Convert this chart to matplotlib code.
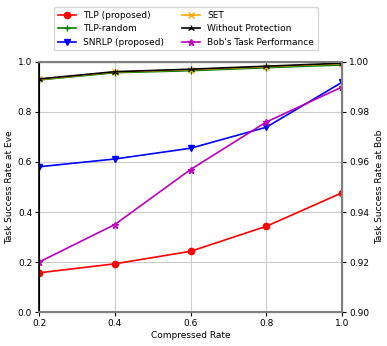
import matplotlib
matplotlib.use("Agg")
import matplotlib.pyplot as plt

x = [0.2, 0.4, 0.6, 0.8, 1.0]
tlp = [0.157, 0.193, 0.243, 0.343, 0.477]
tlp_random = [0.928, 0.957, 0.965, 0.977, 0.988]
snrlp = [0.581, 0.612, 0.655, 0.739, 0.919]
set_ = [0.930, 0.960, 0.969, 0.981, 0.993]
no_prot = [0.932, 0.961, 0.971, 0.983, 0.995]
bob = [0.920, 0.935, 0.957, 0.976, 0.990]

fs = 6.5
fig = plt.figure(figsize=(3.87, 3.46), dpi=100)
ax = fig.add_axes([0.101, 0.098, 0.783, 0.723])
l1, = ax.plot(x, tlp, color='red', marker='o', markersize=4.5, linewidth=1.2, label='TLP (proposed)')
l2, = ax.plot(x, tlp_random, color='green', marker='+', markersize=5, linewidth=1.2, label='TLP-random')
l3, = ax.plot(x, snrlp, color='blue', marker='v', markersize=4.5, linewidth=1.2, label='SNRLP (proposed)')
l4, = ax.plot(x, set_, color='orange', marker='x', markersize=4.5, linewidth=1.2, label='SET')
l5, = ax.plot(x, no_prot, color='black', marker='2', markersize=5, linewidth=1.2, label='Without Protection')
ax.set_xlim(0.2, 1.0)
ax.set_ylim(0, 1.0)
ax.set_xticks(x)
ax.set_yticks([0, 0.2, 0.4, 0.6, 0.8, 1.0])
ax.grid(True, color='#cccccc')
ax.set_xlabel('Compressed Rate', fontsize=fs, labelpad=2)
ax.set_ylabel('Task Success Rate at Eve', fontsize=fs, labelpad=3)
ax.tick_params(labelsize=fs, pad=2, length=3)

ax2 = ax.twinx()
l6, = ax2.plot(x, bob, color='m', marker='*', markersize=4.5, linewidth=1.2, label="Bob's Task Performance")
ax2.set_ylim(0.90, 1.00)
ax2.set_yticks([0.90, 0.92, 0.94, 0.96, 0.98, 1.00])
ax2.set_ylabel('Task Success Rate at Bob', fontsize=fs, labelpad=4)
ax2.tick_params(labelsize=fs, pad=2, length=3)
for s in ['right', 'top', 'bottom']:
    ax2.spines[s].set_color('gray')
    ax2.spines[s].set_linewidth(1.5)
ax2.spines['left'].set_color('black')
ax2.spines['left'].set_linewidth(1.2)

ax.legend(handles=[l1, l2, l3, l4, l5, l6], ncol=2, fontsize=fs,
          loc='lower center', bbox_to_anchor=(0.485, 1.035), borderaxespad=0.3)
fig.savefig('out.png', dpi=100)
